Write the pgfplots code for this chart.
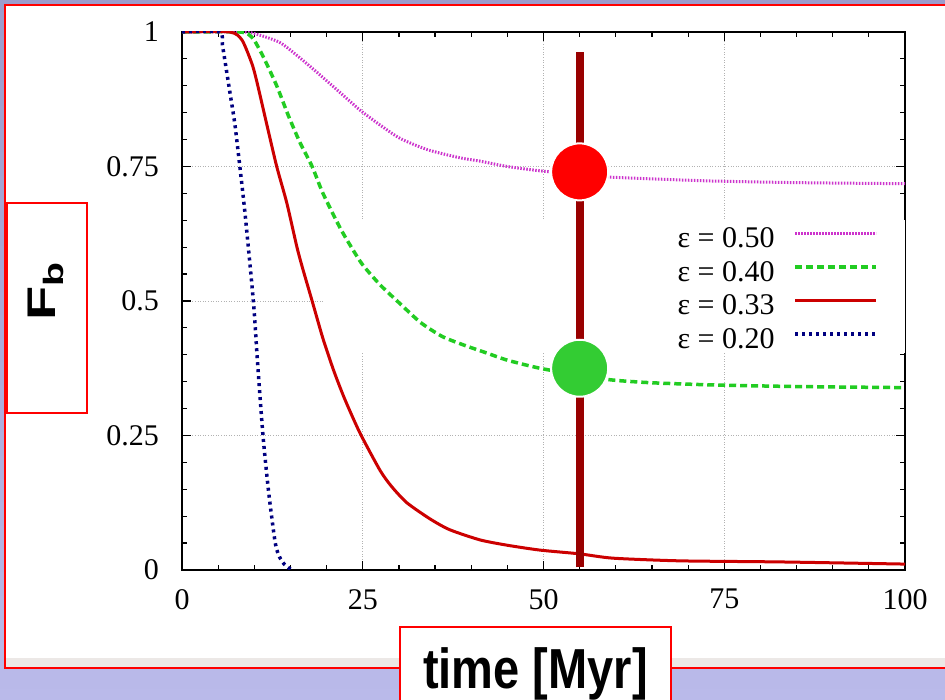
\documentclass[border=0pt]{standalone}
\usepackage{pgfplots}
\pgfplotsset{compat=1.18}
\usepackage{graphicx}
\usepackage{fontspec}
\setmainfont{Liberation Serif}
\newfontfamily\labelfont{Liberation Sans}
\definecolor{bgtop}{HTML}{9C9CCC}
\definecolor{bgbot}{HTML}{BABAEA}
\definecolor{strip}{HTML}{ECE8E6}
\definecolor{cmag}{HTML}{CC33CC}
\definecolor{cgreen}{HTML}{22CC22}
\definecolor{cred}{HTML}{CC0000}
\definecolor{cblue}{HTML}{000080}
\definecolor{vline}{HTML}{990000}
\definecolor{dotgreen}{HTML}{33CC33}

\begin{document}
\begin{tikzpicture}
\path[use as bounding box, clip] (0,0) rectangle (945bp,700bp);
\shade[top color=bgtop, bottom color=bgbot] (0,0) rectangle (945bp,700bp);
% white panel
\fill[white] (5bp,32bp) rectangle (960bp,695bp);
\fill[strip] (5bp,33bp) rectangle (960bp,42bp);
\draw[red, line width=2bp] (5bp,32bp) rectangle (960bp,695bp);
% label boxes
\draw[red, line width=1.5bp, fill=white] (400bp,-10bp) rectangle (671bp,73bp);
\draw[red, line width=1.5bp, fill=white] (7bp,287bp) rectangle (87bp,497bp);

\begin{axis}[
  at={(182bp,130bp)}, anchor=south west,
  scale only axis, width=723bp, height=538bp,
  xmin=0, xmax=100, ymin=0, ymax=1,
  xtick={0,25,50,75,100}, ytick={0,0.25,0.5,0.75,1},
  xticklabels={0,25,50,75,100}, yticklabels={0,0.25,0.5,0.75,1},
  minor x tick num=4, minor y tick num=4,
  tick align=inside,
  major tick length=9bp, minor tick length=5bp,
  every tick/.style={black, line width=1.2bp},
  axis line style={black, line width=2bp},
  grid=major,
  major grid style={gray!60, line width=0.8bp, dash pattern=on 0.8bp off 1.8bp},
  /pgf/number format/assume math mode=true,
  ticklabel style={font=\fontsize{30bp}{33bp}\selectfont, inner sep=0pt},
  yticklabel style={anchor=east, xshift=-23bp},
  xticklabel style={anchor=north, yshift=-19bp},
  xlabel={\scalebox{1}[1.2]{\labelfont\bfseries\fontsize{47bp}{50bp}\selectfont time [Myr]}},
  xlabel style={at={(axis description cs:0.489,-0.221)}, anchor=base, inner sep=0pt},
  ylabel={\scalebox{1.4}[1]{\labelfont\bfseries\fontsize{40bp}{42bp}\selectfont F\raisebox{-8bp}{\fontsize{28bp}{30bp}\selectfont b}}},
  ylabel style={at={(axis description cs:-0.188,0.517)}, anchor=center, inner sep=0pt},
  legend plot pos=right, legend cell align=right,
  legend image code/.code={\draw[#1] (0bp,10bp) -- (81bp,10bp);},
  legend style={at={(axis description cs:0.963,0.638)}, anchor=north east,
    draw=none, fill=none, inner sep=0pt, row sep=0pt, column sep=19bp,
    font=\fontsize{30bp}{33bp}\selectfont,
    nodes={inner sep=0pt, text height=21bp, text depth=12.5bp}},
]
% white key area that hides the grid
\fill[white] (axis cs:19.5,0.403) rectangle (axis cs:100,0.651);

\addplot[cmag, line width=3bp, dash pattern=on 1.5bp off 1.5bp, smooth, tension=0.4] coordinates {
 (0,1) (8.5,1) (10.8,0.994) (13.6,0.980) (16.3,0.952) (19.1,0.920)
 (21.9,0.887) (24.6,0.855) (27.4,0.827) (30.2,0.802) (34.0,0.781)
 (38.5,0.766) (41.2,0.760) (45,0.750) (49.5,0.742) (55,0.735)
 (59.6,0.730) (65,0.727) (73.4,0.723) (85,0.720) (100,0.718)};
\addlegendentry{ε = 0.50}

\addplot[cgreen, line width=3.5bp, dash pattern=on 7bp off 4bp, smooth, tension=0.4] coordinates {
 (0,1) (8,1) (9.7,0.99) (11.2,0.955) (13.1,0.90) (14.7,0.845) (16.3,0.795)
 (18.0,0.75) (19.5,0.70) (21.9,0.635) (23.65,0.595) (25,0.567) (27.4,0.53)
 (30,0.497) (33,0.460) (36,0.434) (39,0.418) (42,0.404) (45,0.390) (49.5,0.375)
 (55,0.362) (59.6,0.353) (65,0.348) (73.4,0.344) (85,0.341) (100,0.339)};
\addlegendentry{ε = 0.40}

\addplot[cred, line width=3bp, smooth, tension=0.4] coordinates {
 (0,1) (6.6,1) (8.3,0.985) (9.7,0.94) (10.4,0.905) (11.8,0.824) (13.1,0.75)
 (14.5,0.682) (15.9,0.60) (16.7,0.56) (18.0,0.50) (19.5,0.43) (21,0.37)
 (22.5,0.318) (24.6,0.255) (27.4,0.185) (29,0.155) (31.1,0.125) (34.3,0.095)
 (37,0.075) (41.2,0.056) (45,0.046) (49.5,0.037) (55,0.030) (59.6,0.022)
 (68.9,0.017) (82.7,0.015) (100,0.011)};
\addlegendentry{ε = 0.33}

\addplot[cblue, line width=3.5bp, dash pattern=on 3bp off 4bp, smooth, tension=0.4] coordinates {
 (0,1) (5.2,1) (5.6,0.975) (6.6,0.89) (7.3,0.83) (8.0,0.75) (8.7,0.665)
 (9.6,0.54) (10.0,0.478) (10.4,0.396) (11.2,0.25) (12.0,0.143) (12.9,0.05)
 (13.5,0.024) (14.2,0.01) (15.2,0.0)};
\addlegendentry{ε = 0.20}

% marker line and points
\addplot[vline, line width=8bp, forget plot] coordinates {(55,0.005) (55,0.963)};
\addplot[only marks, mark=*, mark size=28.5bp, forget plot,
  mark options={fill=red, draw=white, line width=2bp}] coordinates {(55,0.74)};
\addplot[only marks, mark=*, mark size=28.5bp, forget plot,
  mark options={fill=dotgreen, draw=white, line width=2bp}] coordinates {(55,0.375)};
\end{axis}
\end{tikzpicture}
\end{document}
